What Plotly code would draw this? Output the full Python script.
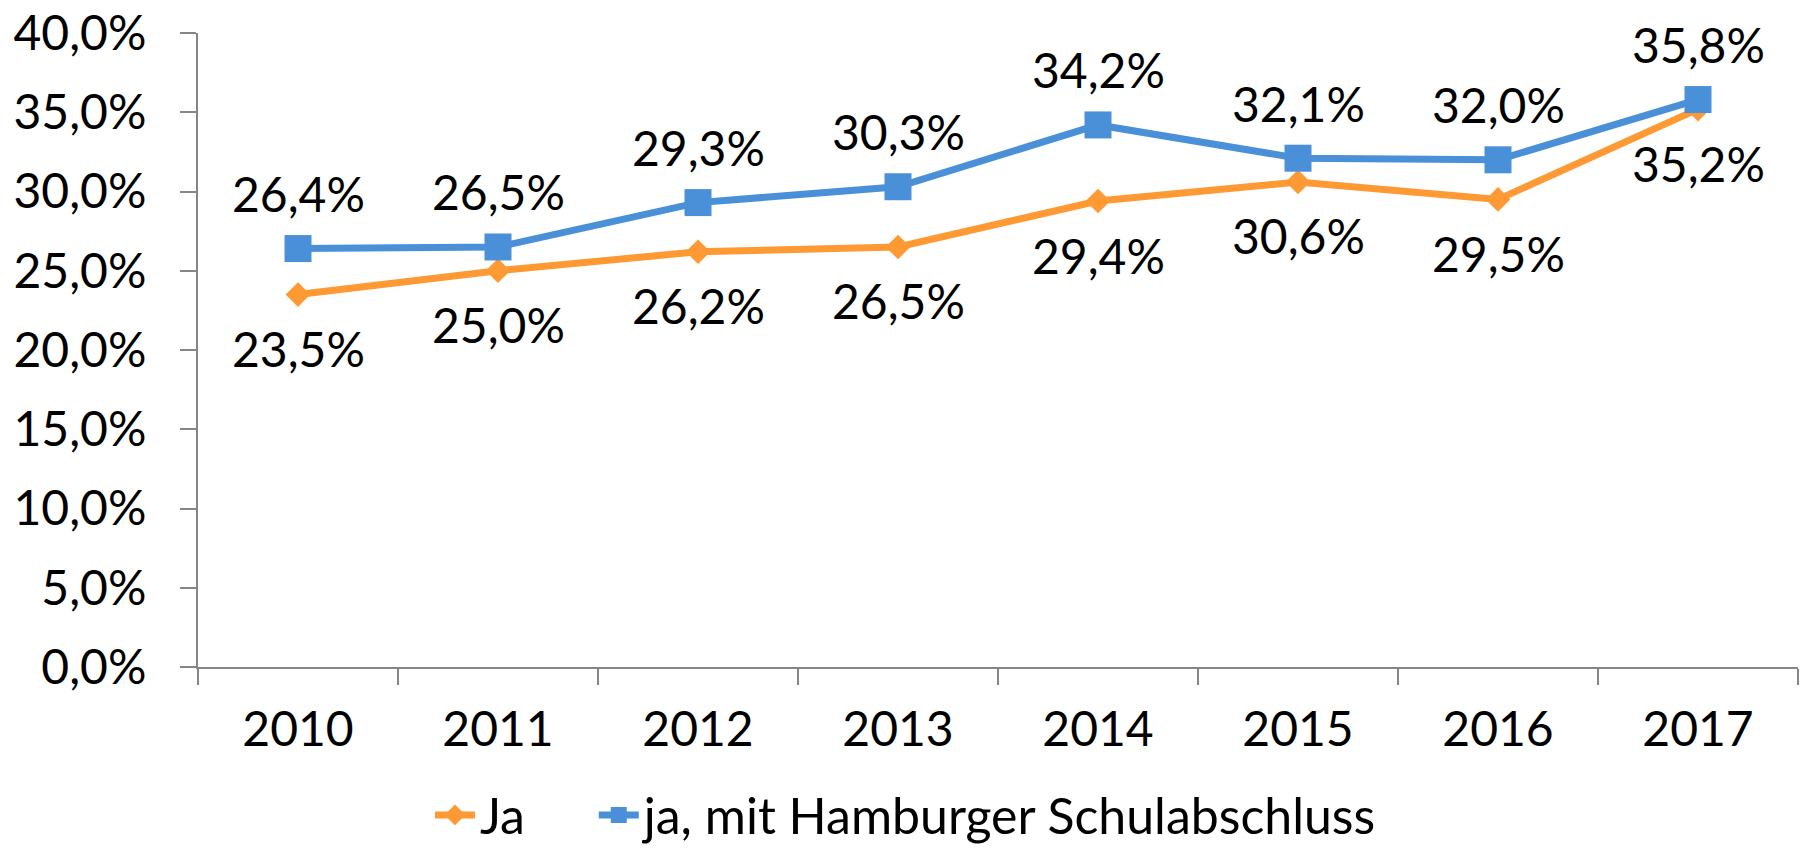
import plotly.graph_objects as go

years = ["2010", "2011", "2012", "2013", "2014", "2015", "2016", "2017"]
ja = [23.5, 25.0, 26.2, 26.5, 29.4, 30.6, 29.5, 35.2]
ja_hh = [26.4, 26.5, 29.3, 30.3, 34.2, 32.1, 32.0, 35.8]
name_ja = "Ja"
name_hh = "ja, mit Hamburger Schulabschluss"

ORANGE = "#FF9933"
BLUE = "#4A90D9"
AX = "#868686"
FONT = "Lato, 'Open Sans', sans-serif"
FS = 48
LFS = 50

def fmt(v):
    return f"{v:.1f}%".replace(".", ",")

fig = go.Figure()
fig.add_trace(go.Scatter(x=years, y=ja, name=name_ja, mode="lines+markers",
                         line=dict(color=ORANGE, width=7),
                         marker=dict(symbol="diamond", size=19, color=ORANGE),
                         legend="legend"))
fig.add_trace(go.Scatter(x=years, y=ja_hh, name=name_hh, mode="lines+markers",
                         line=dict(color=BLUE, width=7),
                         marker=dict(symbol="square", size=27, color=BLUE),
                         legend="legend2"))

for i, v in enumerate(ja_hh):
    fig.add_annotation(x=i, y=v, xref="x", yref="y", text=fmt(v), showarrow=False, yshift=55,
                       font=dict(family=FONT, size=FS, color="black"))
for i, v in enumerate(ja):
    fig.add_annotation(x=i, y=v, xref="x", yref="y", text=fmt(v), showarrow=False, yshift=-54,
                       font=dict(family=FONT, size=FS, color="black"))

leg_common = dict(orientation="h", xref="container", yref="container",
                  xanchor="left", y=0.039, yanchor="middle",
                  font=dict(family=FONT, size=LFS, color="black"),
                  itemwidth=40, bgcolor="rgba(0,0,0,0)")

fig.update_layout(
    width=1802, height=848,
    margin=dict(l=198, r=4, t=33, b=181),
    paper_bgcolor="white", plot_bgcolor="white",
    separators=", ",
    font=dict(family=FONT, size=FS, color="black"),
    showlegend=True,
    legend=dict(x=0.2386, **leg_common),
    legend2=dict(x=0.3295, **leg_common),
)
fig.update_xaxes(type="category", range=[-0.5, 7.5], showline=True, linecolor=AX, linewidth=2,
                 ticks="outside", tickson="boundaries", ticklen=16, tickcolor=AX, tickwidth=2,
                 showgrid=False, zeroline=False, ticklabelstandoff=19, automargin=False)
fig.update_yaxes(range=[0, 40], dtick=5, tickformat=".1f", ticksuffix="%",
                 showline=True, linecolor=AX, linewidth=2,
                 ticks="outside", ticklen=16, tickcolor=AX, tickwidth=2,
                 showgrid=False, zeroline=False, ticklabelstandoff=24, automargin=False)

fig.write_html("out.html", config={"displayModeBar": False},
               post_script="document.body.style.margin='0';document.body.style.overflow='hidden';")
